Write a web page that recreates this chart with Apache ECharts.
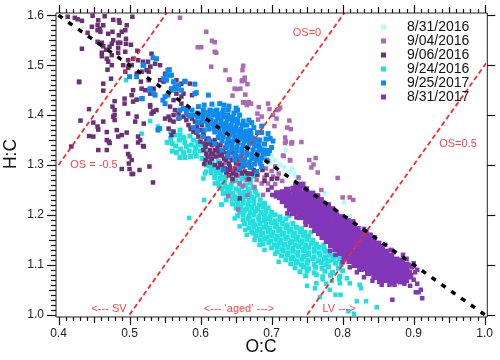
<!DOCTYPE html>
<html><head><meta charset="utf-8">
<style>html,body{margin:0;padding:0;background:#fff}#c{width:500px;height:360px}</style>
<script src="https://cdn.jsdelivr.net/npm/echarts@6/dist/echarts.min.js"></script>
</head><body><div id="c"></div>
<script>
const seriesNames=["8/31/2016","9/04/2016","9/06/2016","9/24/2016","9/25/2017","8/31/2017"];
const xMajor=[0.4,0.5,0.6,0.7,0.8,0.9,1.0];
const xMedium=[0.45,0.55,0.65,0.75,0.85,0.95];
const xMinor=[0.41,0.42,0.43,0.44,0.46,0.47,0.48,0.49,0.51,0.52,0.53,0.54,0.56,0.57,0.58,0.59,0.61,0.62,0.63,0.64,0.66,0.67,0.68,0.69,0.71,0.72,0.73,0.74,0.76,0.77,0.78,0.79,0.81,0.82,0.83,0.84,0.86,0.87,0.88,0.89,0.91,0.92,0.93,0.94,0.96,0.97,0.98,0.99];
const yMajor=[1.0,1.1,1.2,1.3,1.4,1.5,1.6];
const yMedium=[1.05,1.15,1.25,1.35,1.45,1.55];
const yMinor=[1.01,1.02,1.03,1.04,1.06,1.07,1.08,1.09,1.11,1.12,1.13,1.14,1.16,1.17,1.18,1.19,1.21,1.22,1.23,1.24,1.26,1.27,1.28,1.29,1.31,1.32,1.33,1.34,1.36,1.37,1.38,1.39,1.41,1.42,1.43,1.44,1.46,1.47,1.48,1.49,1.51,1.52,1.53,1.54,1.56,1.57,1.58,1.59];
const lineOS_m05=[[0.4,1.3],[0.5525,1.605]];
const lineOS_0=[[0.5,1.0],[0.8025,1.605]];
const lineOS_05=[[0.75,1.0],[1.003,1.506]];
const lineBlack=[[0.4,1.6],[1.0,1.0]];

const aug2016=[[.705,1.31],[.712,1.30],[.728,1.293],[.718,1.296],[.693,1.323],[.70,1.318],[.69,1.33],[.684,1.338],[.725,1.286],[.735,1.277],[.732,1.283],[.708,1.298],[.698,1.305],[.688,1.312],[.68,1.325],[.67,1.345],[.66,1.36],[.676,1.352],[.665,1.372],[.65,1.385],[.64,1.398],[.63,1.41],[.62,1.418],[.737,1.268],[.757,1.247],[.775,1.243],[.802,1.225],[.78,1.218],[.81,1.197],[.595,1.395],[.61,1.405],[.72,1.33]];

const sep04=[[.66,1.499],[.659,1.49],[.662,1.475],[.658,1.468],[.666,1.462],[.648,1.453],[.656,1.453],[.663,1.441],[.645,1.439],[.64,1.471],[.66,1.425],[.665,1.425],[.668,1.426],[.671,1.423],[.682,1.416],[.695,1.423],[.697,1.412],[.712,1.415],[.708,1.41],[.71,1.412],[.65,1.408],[.68,1.403],[.686,1.397],[.681,1.391],[.702,1.4],[.707,1.393],[.725,1.389],[.704,1.378],[.722,1.375],[.727,1.372],[.719,1.355],[.719,1.344],[.729,1.345],[.728,1.343],[.742,1.346],[.717,1.318],[.726,1.309],[.753,1.31],[.762,1.314],[.759,1.301],[.756,1.295],[.571,1.595],[.608,1.567],[.616,1.549],[.62,1.546],[.62,1.527],[.622,1.525],[.596,1.536],[.601,1.536],[.615,1.497],[.635,1.49],[.641,1.471],[.651,1.452],[.659,1.47],[.662,1.47],[.665,1.42],[.66,1.426],[.8,1.235],[.81,1.235],[.815,1.23],[.77,1.25],[.793,1.274],[.765,1.285],[.639,1.238],[.653,1.211],[.655,1.263],[.665,1.27],[.669,1.283],[.679,1.27],[.679,1.283],[.686,1.263],[.688,1.24],[.695,1.263],[.702,1.277],[.716,1.319],[.72,1.347],[.726,1.31],[.728,1.345],[.64,1.292],[.648,1.287],[.657,1.3],[.662,1.305],[.672,1.295],[.684,1.302],[.692,1.293],[.7,1.288],[.71,1.283],[.645,1.268],[.652,1.278],[.676,1.256],[.69,1.275],[.705,1.262],[.715,1.268],[.66,1.258],[.666,1.24],[.634,1.305],[.628,1.318],[.675,1.312],[.695,1.308],[.705,1.297],[.642,1.315],[.738,1.275],[.745,1.262]];

const sep06=[[.413,1.597],[.423,1.595],[.427,1.592],[.433,1.589],[.448,1.599],[.465,1.598],[.504,1.597],[.477,1.591],[.485,1.59],[.486,1.585],[.456,1.59],[.447,1.577],[.455,1.58],[.463,1.58],[.458,1.573],[.455,1.57],[.459,1.567],[.496,1.58],[.494,1.57],[.489,1.567],[.47,1.563],[.476,1.567],[.441,1.565],[.485,1.56],[.495,1.553],[.455,1.547],[.461,1.545],[.477,1.55],[.484,1.545],[.487,1.545],[.475,1.543],[.463,1.538],[.472,1.537],[.495,1.543],[.502,1.541],[.433,1.533],[.467,1.531],[.484,1.535],[.461,1.525],[.461,1.518],[.484,1.525],[.475,1.52],[.468,1.513],[.47,1.507],[.494,1.527],[.511,1.529],[.505,1.513],[.498,1.51],[.512,1.51],[.519,1.507],[.503,1.5],[.526,1.507],[.531,1.523],[.469,1.491],[.475,1.5],[.491,1.5],[.498,1.495],[.494,1.487],[.51,1.483],[.527,1.487],[.516,1.467],[.429,1.467],[.463,1.463],[.474,1.473],[.463,1.449],[.505,1.45],[.503,1.44],[.51,1.431],[.493,1.433],[.479,1.428],[.479,1.41],[.476,1.417],[.493,1.423],[.505,1.427],[.529,1.417],[.533,1.407],[.538,1.41],[.443,1.412],[.429,1.466],[.431,1.389],[.418,1.337],[.443,1.358],[.449,1.357],[.456,1.371],[.463,1.387],[.468,1.366],[.468,1.35],[.482,1.37],[.479,1.4],[.51,1.397],[.508,1.387],[.498,1.403],[.484,1.357],[.489,1.36],[.496,1.365],[.512,1.357],[.471,1.347],[.472,1.344],[.456,1.33],[.468,1.33],[.495,1.337],[.498,1.322],[.5,1.317],[.499,1.303],[.503,1.31],[.489,1.292],[.5,1.292],[.503,1.282],[.505,1.282],[.514,1.29],[.519,1.338],[.512,1.345],[.477,1.397],[.479,1.39],[.449,1.385],[.455,1.377],[.533,1.265],
[.517,1.487],[.524,1.49],[.529,1.497],[.536,1.503],[.527,1.47],[.517,1.453],[.522,1.45],[.529,1.443],[.534,1.453],[.543,1.47],[.548,1.467],[.55,1.483],[.543,1.5],[.566,1.47],[.573,1.463],[.578,1.467],[.585,1.463],[.566,1.443],[.573,1.437],[.576,1.443],[.588,1.44],[.562,1.43],[.557,1.417],[.564,1.41],[.569,1.403],[.573,1.423],[.562,1.4],[.555,1.397],[.55,1.393],[.557,1.39],[.562,1.387],[.569,1.393],[.576,1.397],[.583,1.4],[.588,1.393],[.592,1.387],[.595,1.377],[.602,1.38],[.583,1.38],[.59,1.367],[.597,1.357],[.604,1.363],[.611,1.353],[.6,1.347],[.606,1.343],[.616,1.34],[.62,1.35],[.52,1.383],[.529,1.42],[.534,1.407],[.531,1.403],[.52,1.337],[.515,1.35],[.528,1.297],[.562,1.367],[.559,1.36],[.555,1.373],
[.604,1.33],[.608,1.323],[.613,1.33],[.62,1.33],[.625,1.327],[.627,1.32],[.622,1.317],[.63,1.32],[.64,1.303],[.65,1.303],[.636,1.31],[.641,1.29],[.656,1.3],[.66,1.297],[.648,1.293],[.655,1.29],[.662,1.287],[.666,1.283],[.641,1.297],[.63,1.3],[.627,1.303],[.634,1.293],[.62,1.3],[.613,1.305],[.607,1.31],[.616,1.313],[.655,1.233],[.655,1.3],[.66,1.31],[.645,1.325],[.65,1.318],[.635,1.335],[.628,1.34],[.64,1.345],[.668,1.3],[.675,1.29],[.68,1.28],[.668,1.272],[.69,1.268],[.64,1.28],[.645,1.272],[.65,1.28],[.70,1.272],[.708,1.273],[.693,1.28],[.687,1.29],
[.607,1.337],[.612,1.343],[.618,1.322],[.624,1.335],[.61,1.316],[.615,1.322],[.632,1.327],[.637,1.323],[.644,1.31],[.652,1.31],[.633,1.313],[.58,1.39],[.586,1.372],[.594,1.365],[.6,1.37],[.608,1.352],[.614,1.347],[.622,1.342],[.605,1.302],[.625,1.295],[.636,1.285],[.646,1.283],[.658,1.283],[.672,1.282]];

const sep24Sparse=[[.604,1.273],[.608,1.287],[.606,1.283],[.62,1.263],[.625,1.265],[.632,1.263],[.639,1.253],[.646,1.27],[.63,1.22],[.648,1.193],[.655,1.177],[.663,1.17],[.674,1.163],[.683,1.14],[.584,1.194],[.629,1.221],[.586,1.316],[.605,1.23],[.529,1.388],[.54,1.377],[.543,1.373],[.517,1.363],[.495,1.47],[.53,1.497],
[.75,1.058],[.763,1.063],[.761,1.053],[.768,1.035],[.782,1.05],[.79,1.04],[.797,1.04],[.796,1.063],[.806,1.073],[.81,1.063],[.826,1.053],[.824,1.06],[.82,1.027],[.833,1.027],[.848,1.015],[.808,1.007],[.816,1.002],[.777,1.062],[.772,1.071],[.785,1.068],[.795,1.072],[.80,1.115],[.773,1.14],[.755,1.165],[.725,1.198],[.71,1.106],[.705,1.122],[.69,1.13],[.676,1.15],[.665,1.16]];

const sep24Core=[[.571,1.37],[.576,1.355],[.571,1.36],[.564,1.36],[.558,1.353],[.56,1.343],[.553,1.345],[.57,1.35],[.578,1.345],[.585,1.358],[.59,1.35],[.596,1.345],[.565,1.338],[.572,1.332],[.58,1.337],[.587,1.34],[.593,1.335],[.6,1.34],[.576,1.325],[.584,1.328],[.592,1.325],[.6,1.328],[.606,1.332],[.571,1.315],[.578,1.315],[.586,1.317],[.594,1.318],[.602,1.313],[.608,1.32],[.612,1.31],[.56,1.328],[.566,1.325],[.558,1.367],
[.612,1.298],[.62,1.293],[.628,1.285],[.615,1.285],[.62,1.275],[.627,1.273],[.635,1.275],[.642,1.278],[.616,1.305],[.625,1.307],[.632,1.298],[.638,1.283],[.634,1.265],[.643,1.26],[.65,1.268],[.658,1.272],[.65,1.285],[.66,1.28],[.665,1.275],[.67,1.27],[.675,1.278],[.64,1.247],[.632,1.243],[.625,1.285],[.608,1.3],[.615,1.295],[.63,1.253],[.626,1.258],[.636,1.256],[.63,1.275],[.622,1.284],
[.655,1.262],[.663,1.26],[.67,1.264],[.642,1.255],[.65,1.252],[.658,1.256],[.667,1.252],[.674,1.255],[.638,1.246],[.645,1.244],[.654,1.248],[.661,1.245],[.669,1.244],[.677,1.247],[.64,1.238],[.648,1.236],[.656,1.24],[.663,1.237],[.672,1.236],[.68,1.24],[.636,1.23],[.645,1.232],[.652,1.228],[.66,1.231],[.668,1.229],[.675,1.232],[.684,1.23],[.645,1.222],[.653,1.22],[.66,1.224],[.667,1.221],[.675,1.223],[.683,1.22],[.69,1.223],[.65,1.214],[.657,1.216],[.665,1.212],[.672,1.215],[.68,1.213],[.688,1.216],[.695,1.214],[.655,1.206],[.662,1.209],[.67,1.205],[.677,1.208],[.685,1.205],[.692,1.207],[.7,1.205],[.652,1.198],[.66,1.2],[.668,1.197],[.675,1.2],[.682,1.196],[.69,1.199],[.698,1.197],[.705,1.2],[.712,1.196],[.66,1.19],[.667,1.192],[.674,1.188],[.682,1.191],[.69,1.189],[.697,1.192],[.705,1.188],[.712,1.19],[.72,1.192],[.662,1.182],[.67,1.184],[.677,1.18],[.684,1.183],[.692,1.181],[.7,1.184],[.707,1.18],[.715,1.183],[.722,1.18],[.73,1.183],[.668,1.174],[.675,1.176],[.683,1.172],[.69,1.175],[.697,1.173],[.705,1.176],[.712,1.172],[.72,1.175],[.727,1.172],[.735,1.175],[.742,1.172],[.672,1.166],[.68,1.168],[.687,1.164],[.695,1.167],[.702,1.165],[.71,1.168],[.717,1.164],[.725,1.167],[.732,1.164],[.74,1.167],[.747,1.165],[.678,1.158],[.685,1.16],[.693,1.156],[.7,1.159],[.708,1.157],[.715,1.16],[.722,1.156],[.73,1.159],[.737,1.156],[.745,1.159],[.752,1.157],[.684,1.15],[.691,1.152],[.699,1.148],[.706,1.151],[.713,1.149],[.72,1.152],[.728,1.148],[.735,1.151],[.743,1.148],[.75,1.151],[.758,1.149],[.688,1.142],[.696,1.144],[.704,1.14],[.711,1.143],[.718,1.141],[.726,1.144],[.733,1.14],[.741,1.143],[.748,1.14],[.756,1.143],[.763,1.141],[.7,1.134],[.708,1.136],[.715,1.132],[.723,1.135],[.73,1.133],[.738,1.136],[.745,1.132],[.752,1.135],[.76,1.132],[.767,1.135],[.774,1.133],[.708,1.126],[.716,1.128],[.723,1.124],[.73,1.127],[.737,1.125],[.745,1.128],[.752,1.124],[.76,1.127],[.767,1.124],[.775,1.127],[.782,1.125],[.714,1.118],[.722,1.12],[.73,1.116],[.737,1.119],[.745,1.117],[.752,1.12],[.76,1.116],[.768,1.119],[.776,1.116],[.783,1.119],[.79,1.118],[.72,1.11],[.728,1.112],[.736,1.108],[.743,1.111],[.751,1.109],[.758,1.112],[.766,1.108],[.774,1.111],[.78,1.108],[.787,1.11],[.795,1.112],[.727,1.102],[.735,1.104],[.742,1.1],[.75,1.103],[.76,1.101],[.77,1.104],[.777,1.1],[.79,1.103],[.798,1.101],[.733,1.094],[.745,1.096],[.752,1.092],[.762,1.095],[.771,1.093],[.78,1.096],[.794,1.093],[.74,1.086],[.75,1.088],[.76,1.084],[.775,1.087],[.786,1.085],[.8,1.088],[.748,1.078],[.763,1.08],[.772,1.076],[.783,1.079],[.796,1.077]];

const sep25=[[.533,1.515],[.538,1.513],[.519,1.5],[.51,1.477],[.5,1.477],[.518,1.433],[.528,1.45],[.534,1.443],[.554,1.49],[.548,1.473],[.557,1.48],[.564,1.457],[.559,1.45],[.554,1.44],[.55,1.437],[.55,1.423],[.547,1.43],[.573,1.45],[.578,1.467],[.592,1.443],[.611,1.44],[.542,1.373],[.54,1.37],[.52,1.5],[.556,1.491],[.552,1.48],[.559,1.48],[.552,1.47],[.562,1.467],[.569,1.46],[.559,1.453],[.566,1.453],[.592,1.462],[.594,1.445],[.578,1.468],[.529,1.453],[.536,1.44],[.517,1.433],
[.571,1.41],[.576,1.413],[.583,1.413],[.588,1.41],[.597,1.417],[.604,1.41],[.613,1.41],[.616,1.422],[.627,1.423],[.623,1.41],[.632,1.41],[.639,1.41],[.647,1.404],[.66,1.388],[.655,1.4],[.67,1.369],[.698,1.353],[.702,1.348],[.697,1.329],[.686,1.378],[.683,1.35],[.686,1.365],[.686,1.33],[.69,1.342],[.665,1.38],[.672,1.385],
[.59,1.4],[.596,1.404],[.603,1.402],[.61,1.405],[.617,1.408],[.624,1.402],[.631,1.404],[.638,1.4],[.645,1.396],[.652,1.392],[.596,1.396],[.603,1.394],[.61,1.397],[.617,1.4],[.624,1.395],[.631,1.396],[.638,1.392],[.645,1.388],[.652,1.384],[.659,1.38],[.601,1.386],[.608,1.388],[.615,1.39],[.622,1.387],[.629,1.388],[.636,1.384],[.643,1.38],[.65,1.376],[.657,1.372],[.664,1.368],[.671,1.362],[.61,1.38],[.617,1.382],[.624,1.379],[.631,1.38],[.638,1.376],[.645,1.372],[.652,1.368],[.659,1.364],[.666,1.36],[.673,1.354],[.68,1.35],[.612,1.372],[.619,1.374],[.626,1.371],[.633,1.372],[.64,1.368],[.647,1.364],[.654,1.36],[.661,1.356],[.668,1.352],[.675,1.346],[.682,1.342],[.62,1.366],[.627,1.363],[.634,1.364],[.641,1.36],[.648,1.356],[.655,1.352],[.662,1.348],[.669,1.344],[.676,1.338],[.683,1.334],[.69,1.33],[.625,1.355],[.632,1.356],[.639,1.352],[.646,1.348],[.653,1.344],[.66,1.34],[.667,1.336],[.674,1.33],[.681,1.326],[.688,1.322],[.63,1.348],[.637,1.344],[.644,1.34],[.651,1.336],[.658,1.332],[.665,1.328],[.672,1.322],[.679,1.318],[.686,1.314],[.637,1.336],[.644,1.332],[.651,1.328],[.658,1.324],[.665,1.32],[.672,1.314],[.679,1.31],[.684,1.305],[.64,1.326],[.648,1.32],[.655,1.316],[.662,1.312],[.669,1.306],[.676,1.302],[.632,1.29],[.655,1.293],[.679,1.287],[.686,1.297],[.695,1.323],[.62,1.343],[.612,1.35],[.604,1.357],[.596,1.368],[.605,1.37],[.658,1.31],[.648,1.31],[.666,1.3],[.638,1.318],[.63,1.33],[.693,1.31],[.773,1.17],
[.58,1.405],[.585,1.398],[.57,1.395],[.596,1.385],[.59,1.375],[.66,1.30],[.67,1.295],[.692,1.352],[.68,1.365],[.675,1.375],[.668,1.39],[.652,1.41],[.64,1.418],[.633,1.42],[.70,1.335],[.695,1.363],[.69,1.322],[.65,1.414],[.605,1.42]];

const aug2017Core=[[.735,1.258],[.742,1.26],[.722,1.25],[.731,1.252],[.739,1.249],[.748,1.251],[.708,1.243],[.716,1.245],[.724,1.242],[.733,1.244],[.741,1.241],[.749,1.244],[.757,1.242],[.712,1.236],[.72,1.238],[.727,1.234],[.735,1.237],[.743,1.235],[.751,1.238],[.759,1.234],[.764,1.237],[.716,1.228],[.723,1.23],[.731,1.226],[.738,1.229],[.746,1.227],[.754,1.23],[.761,1.226],[.769,1.229],[.722,1.22],[.729,1.222],[.736,1.218],[.744,1.221],[.751,1.219],[.759,1.222],[.766,1.218],[.773,1.221],[.779,1.219],[.726,1.212],[.733,1.214],[.74,1.21],[.748,1.213],[.755,1.211],[.763,1.214],[.77,1.21],[.778,1.213],[.785,1.211],[.73,1.204],[.738,1.206],[.745,1.202],[.752,1.205],[.76,1.203],[.767,1.206],[.775,1.202],[.782,1.205],[.79,1.203],[.74,1.196],[.747,1.198],[.754,1.194],[.761,1.197],[.769,1.195],[.776,1.198],[.784,1.194],[.791,1.197],[.798,1.195],[.749,1.188],[.756,1.19],[.763,1.186],[.771,1.189],[.778,1.187],[.785,1.19],[.793,1.186],[.8,1.189],[.807,1.187],[.757,1.18],[.764,1.182],[.771,1.178],[.778,1.181],[.786,1.179],[.793,1.182],[.8,1.178],[.808,1.181],[.814,1.179],[.762,1.172],[.77,1.174],[.777,1.17],[.784,1.173],[.791,1.171],[.799,1.174],[.806,1.17],[.813,1.173],[.821,1.171],[.767,1.164],[.774,1.166],[.782,1.162],[.789,1.165],[.796,1.163],[.803,1.166],[.811,1.162],[.818,1.165],[.825,1.163],[.832,1.165],[.772,1.156],[.779,1.158],[.786,1.154],[.794,1.157],[.801,1.155],[.808,1.158],[.815,1.154],[.823,1.157],[.83,1.155],[.838,1.158],[.778,1.148],[.785,1.15],[.792,1.146],[.8,1.149],[.807,1.147],[.814,1.15],[.821,1.146],[.829,1.149],[.836,1.147],[.843,1.15],[.784,1.14],[.792,1.142],[.799,1.138],[.806,1.141],[.813,1.139],[.82,1.142],[.828,1.138],[.835,1.141],[.842,1.139],[.85,1.142],[.79,1.132],[.797,1.134],[.804,1.13],[.811,1.133],[.819,1.131],[.826,1.134],[.833,1.13],[.84,1.133],[.848,1.131],[.855,1.134],[.796,1.124],[.804,1.126],[.811,1.122],[.818,1.125],[.825,1.123],[.832,1.126],[.84,1.122],[.847,1.125],[.854,1.123],[.861,1.126],[.803,1.116],[.81,1.118],[.817,1.114],[.824,1.117],[.832,1.115],[.839,1.118],[.846,1.114],[.853,1.117],[.86,1.115],[.868,1.118],[.81,1.108],[.817,1.11],[.825,1.106],[.832,1.109],[.839,1.107],[.846,1.11],[.853,1.106],[.861,1.109],[.868,1.107],[.875,1.11],[.883,1.108],[.817,1.1],[.824,1.102],[.831,1.098],[.839,1.101],[.846,1.099],[.853,1.102],[.86,1.098],[.867,1.101],[.875,1.099],[.882,1.102],[.889,1.1],[.825,1.092],[.833,1.094],[.84,1.09],[.847,1.093],[.854,1.091],[.861,1.094],[.869,1.09],[.876,1.093],[.883,1.091],[.89,1.094],[.836,1.084],[.843,1.086],[.85,1.082],[.858,1.085],[.865,1.083],[.872,1.086],[.879,1.082],[.886,1.085],[.893,1.083],[.845,1.076],[.852,1.078],[.859,1.074],[.866,1.077],[.873,1.075],[.881,1.078],[.888,1.074],[.895,1.077],[.853,1.068],[.86,1.07],[.868,1.066],[.875,1.069],[.882,1.067],[.889,1.07]];
const aug2017Sparse=[[.855,1.06],[.866,1.06],[.873,1.06],[.887,1.062],[.895,1.058],[.905,1.062],[.91,1.05],[.903,1.045],[.907,1.045],[.912,1.033],[.87,1.03],[.88,1.068],[.893,1.1],[.902,1.085],[.885,1.12],[.872,1.125],[.868,1.13],[.853,1.137],[.838,1.16],[.70,1.255],[.695,1.25],[.706,1.237],[.701,1.24],
[.80,1.196],[.815,1.187],[.83,1.172],[.845,1.155],[.86,1.14],[.89,1.112],[.9,1.103],[.905,1.09],[.778,1.22],[.765,1.228],[.76,1.168],[.748,1.18],[.735,1.195],[.722,1.203],[.782,1.128],[.79,1.12],[.80,1.105],[.81,1.095],[.82,1.085],[.83,1.075],[.842,1.068],[.90,1.07],[.898,1.095]];

const red='#f52a2a';
const FRAME={left:56,right:487.3,top:13,bottom:317};
function scatter(name,data,color,size){return {name,type:'scatter',data,symbol:'rect',symbolSize:size||4.5,itemStyle:{color,opacity:1},silent:true,animation:false};}
function line(data,color,width,dash){return {type:'line',data,symbol:'none',silent:true,animation:false,clip:false,lineStyle:{color,width,type:dash}};}
const lab={fontFamily:'Liberation Sans',fontSize:12,color:'#222'};
function ax(range,offset,margin){return {type:'value',min:range[0],max:range[1],interval:0.1,offset,splitLine:{show:false},
 axisLine:{show:false},axisTick:{show:false},
 axisLabel:{...lab,show:true,margin,formatter:v=>v.toFixed(1)}};}
function t(text,x,y,color,size,rot){return {type:'text',x,y,rotation:rot||0,silent:true,z:50,style:{text,x:0,y:0,fill:color,fontFamily:'Liberation Sans',fontSize:size,align:'center',verticalAlign:'middle'}};}
const chart=echarts.init(document.getElementById('c'),null,{renderer:'canvas'});
const texts=[
  {type:'rect',silent:true,z:40,shape:{x:56,y:13,width:431.3,height:304},style:{fill:'none',stroke:'#222',lineWidth:1}},
  t('H:C',11,154,'#111',17.5,Math.PI/2),
  t('O:C',261,347,'#111',17.5),
  t('OS = -0.5',94,165,'#f44',11),
  t('OS=0',307,33,'#f44',11),
  t('OS=0.5',458,144,'#f44',11),
  t('<--- SV',109,309,'#f44',11),
  t('<--- ‘aged’ --->',239,309,'#f44',11),
  t('LV --->',339,309,'#f44',11)
];
chart.setOption({
 animation:false,backgroundColor:'#fff',
 grid:{left:58.5,right:15.3,top:15.3,bottom:45.3},
 xAxis:ax([0.4,1.0],2.3,11),
 yAxis:ax([1.0,1.6],2.5,12),
 legend:{orient:'vertical',left:376,top:15,itemWidth:5,itemHeight:5,itemGap:0,icon:'rect',data:seriesNames,selectedMode:false,
  textStyle:{fontFamily:'Liberation Sans',fontSize:14,color:'#111',padding:[0,0,0,16]}},
 series:[
  scatter(seriesNames[0],aug2016,'#b5fbfb'),
  scatter(seriesNames[3],sep24Core,'#1fdfdf',5),
  scatter(seriesNames[3],sep24Sparse,'#1fdfdf'),
  scatter(seriesNames[1],sep04,'#ab69b6'),
  scatter(seriesNames[2],sep06,'#6b3077'),
  scatter(seriesNames[4],sep25,'#0e8aee',5),
  scatter(seriesNames[5],aug2017Core,'#8236b8',6.5),
  scatter(seriesNames[5],aug2017Sparse,'#8236b8'),
  line(lineOS_m05,red,1.8,[5,3]),
  line(lineOS_0,red,1.8,[5,3]),
  line(lineOS_05,red,1.8,[5,3]),
  line(lineBlack,'#000',3.5,[5,7])
 ],
 graphic:texts
});
// tick marks placed through the chart's own scales, on their own layer
const ticks=[];
const tickStyle={stroke:'#111',lineWidth:1.2};
function tickX(values,len){values.forEach(v=>{const x=Math.round(chart.convertToPixel({xAxisIndex:0},v))+0.5;
 ticks.push({type:'line',silent:true,zlevel:1,shape:{x1:x,y1:FRAME.bottom,x2:x,y2:FRAME.bottom+len},style:tickStyle});
 ticks.push({type:'line',silent:true,zlevel:1,shape:{x1:x,y1:FRAME.top,x2:x,y2:FRAME.top-len},style:tickStyle});});}
function tickY(values,len,right){values.forEach(v=>{const y=Math.round(chart.convertToPixel({yAxisIndex:0},v))+0.5;
 ticks.push({type:'line',silent:true,zlevel:1,shape:{x1:FRAME.left,y1:y,x2:FRAME.left-len,y2:y},style:tickStyle});
 if(right)ticks.push({type:'line',silent:true,zlevel:1,shape:{x1:FRAME.right,y1:y,x2:FRAME.right+right,y2:y},style:tickStyle});});}
tickX(xMajor,8);tickX(xMedium,6);tickX(xMinor,4);
tickY(yMajor,9,8);tickY(yMedium,7,0);tickY(yMinor,5,0);
chart.setOption({graphic:texts.concat(ticks)},{replaceMerge:['graphic']});
</script></body></html>
